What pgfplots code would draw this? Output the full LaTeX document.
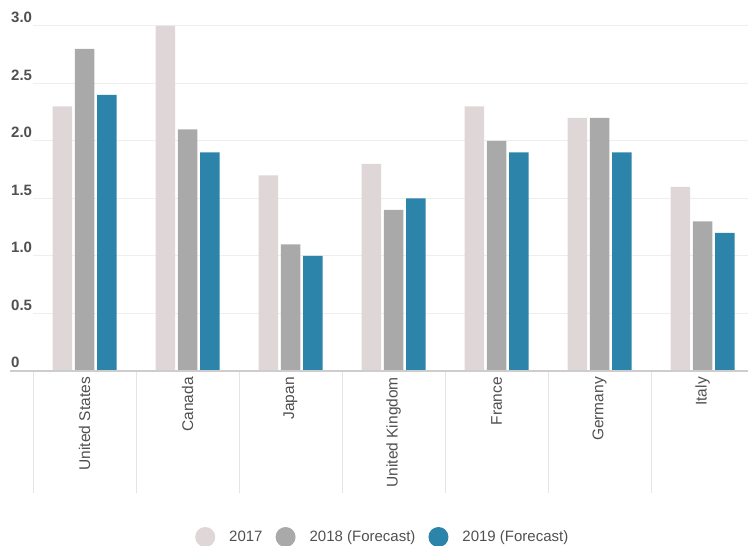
\documentclass[border=0pt]{standalone}
\usepackage{pgfplots}
\pgfplotsset{compat=1.18}
\usepackage{fontspec}
\setmainfont{Liberation Sans}
\definecolor{c17}{RGB}{222,214,215}
\definecolor{c18}{RGB}{170,169,170}
\definecolor{c19}{RGB}{44,132,171}
\definecolor{gridc}{RGB}{238,238,238}
\definecolor{sepc}{RGB}{228,228,228}
\definecolor{basec}{RGB}{205,205,205}
\definecolor{txt}{RGB}{80,80,80}

\begin{document}
\begin{tikzpicture}
\useasboundingbox (0,0) rectangle (748pt,546pt);
\begin{axis}[
  at={(33pt,175pt)}, anchor=south west,
  scale only axis, width=721pt, height=345pt,
  ybar=2.75pt, bar width=19.5pt,
  xmin=-0.5, xmax=6.5, ymin=0, ymax=3,
  axis line style={draw=none},
  major tick length=0pt,
  xtick={0,...,6},
  xticklabels={United States,Canada,Japan,United Kingdom,France,Germany,Italy},
  x tick label style={yshift=-6pt, rotate=90, anchor=east, inner sep=0pt,
    font=\fontsize{15.5}{17}\selectfont, text=txt},
  xtick pos=left,
  extra x ticks={-0.5,0.5,1.5,2.5,3.5,4.5,5.5},
  extra x tick labels={},
  extra x tick style={major tick length=122pt, tick align=outside,
    tick style={draw=sepc, line width=1pt}},
  ytick={0,0.5,1,1.5,2,2.5,3},
  yticklabels={0,0.5,1.0,1.5,2.0,2.5,3.0},
  y tick label style={anchor=south west, inner sep=0pt, xshift=-22pt, yshift=3pt,
    font=\bfseries\fontsize{15}{17}\selectfont, text=txt},
  ymajorgrids, grid style={draw=gridc, line width=1pt},
  legend columns=3,
  legend image code/.code={\fill[#1] (0pt,0pt) circle (10pt);},
  legend style={at={(0.2247,-0.4812)}, anchor=west, draw=none, fill=none,
    inner sep=0pt, font=\fontsize{15}{17}\selectfont, text=txt,
    /tikz/every odd column/.append style={column sep=12pt},
    /tikz/every even column/.append style={column sep=11pt}},
]
\addplot[fill=c17, draw=none] coordinates {
  (0,2.3) (1,3.0) (2,1.7) (3,1.8) (4,2.3) (5,2.2) (6,1.6)};
\addplot[fill=c18, draw=none] coordinates {
  (0,2.8) (1,2.1) (2,1.1) (3,1.4) (4,2.0) (5,2.2) (6,1.3)};
\addplot[fill=c19, draw=none] coordinates {
  (0,2.4) (1,1.9) (2,1.0) (3,1.5) (4,1.9) (5,1.9) (6,1.2)};
\legend{2017, 2018 (Forecast), 2019 (Forecast)}
\end{axis}
\draw[basec, line width=1.5pt] (10pt,175pt) -- (748pt,175pt);
\end{tikzpicture}
\end{document}
